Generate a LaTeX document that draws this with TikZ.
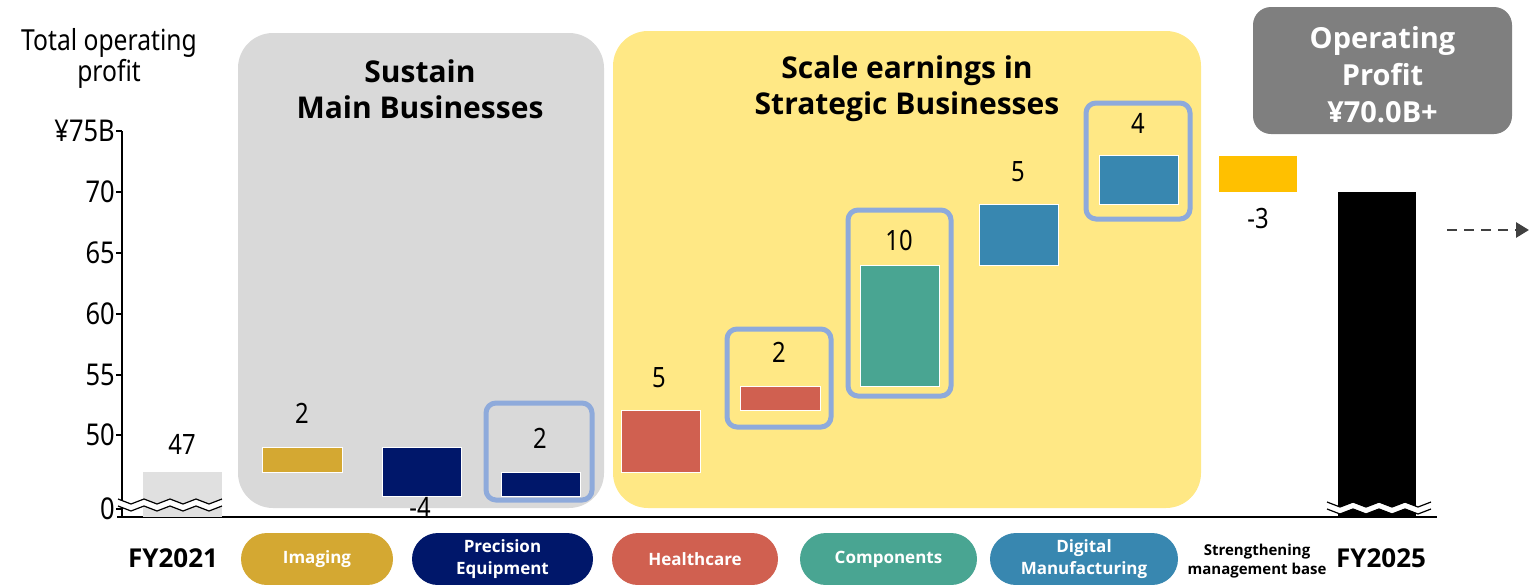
\documentclass[tikz,border=0pt]{standalone}
\usepackage{fontspec}
\setmainfont{Open Sans}
\newfontfamily\narrowfont{Noto Sans}[FakeStretch=0.85]
\usetikzlibrary{arrows.meta}

\definecolor{imgcol}{HTML}{D4A832}
\definecolor{preccol}{HTML}{00176A}
\definecolor{healthcol}{HTML}{D06050}
\definecolor{compcol}{HTML}{49A592}
\definecolor{digicol}{HTML}{3887B0}
\definecolor{basecol}{HTML}{FFC000}
\definecolor{hiblue}{HTML}{8EAADB}
\definecolor{panelgray}{HTML}{D9D9D9}
\definecolor{panelyellow}{HTML}{FFE885}
\definecolor{startgray}{HTML}{E0E0E0}
\definecolor{opgray}{HTML}{7F7F7F}
\definecolor{arrowgray}{HTML}{404040}

\tikzset{
  axisline/.style={line width=1.6pt},
  ticklbl/.style={anchor=east, inner sep=1pt, font=\narrowfont\fontsize{30}{32}\selectfont},
  val/.style={font=\narrowfont\fontsize{28}{30}\selectfont},
  bar/.style={fill=#1, draw=white, line width=1pt},
  hilite/.style={draw=hiblue, line width=5pt, rounded corners=10pt},
  paneltitle/.style={align=center, font=\bfseries\fontsize{30}{36}\selectfont},
  pill/.style={fill=#1, text=white, rounded corners=26pt, minimum height=52pt,
    inner sep=0pt, align=center, font=\bfseries\fontsize{17}{22}\selectfont},
  fylbl/.style={font=\bfseries\fontsize{26}{28}\selectfont},
}

% zigzag break mark: #1 = left x, #2 = y
\newcommand{\zigline}[3][]{\draw[#1] plot[domain=0:8, samples=9] ({#2+13*\x}, {#3+5*mod(\x,2)});}
\newcommand{\axbreak}[2]{%
  \zigline[white, line width=6pt]{#1}{#2+3.5}
  \zigline[black, line width=1.2pt]{#1}{#2}
  \zigline[black, line width=1.2pt]{#1}{#2+7}}

\begin{document}
\begin{tikzpicture}[x=1pt,y=-1pt]
\useasboundingbox (0,0) rectangle (1529,584);

% background panels
\fill[panelgray, rounded corners=35pt] (238,33) rectangle (604,508);
\fill[panelyellow, rounded corners=35pt] (613,31) rectangle (1201,508);
\node[paneltitle] (sustain) at (420,89) {Sustain\\Main Businesses};
\node[paneltitle] (scale) at (907,89) {Scale earnings in\\Strategic Businesses};

\fill[opgray, rounded corners=18pt] (1253,7) rectangle (1512,134);
\node[text=white, align=center, font=\bfseries\fontsize{29}{37}\selectfont] (opprofit) at (1382.5,75)
  {Operating\\Profit\\¥70.0B+};

\node[align=center, font=\narrowfont\fontsize{29}{31}\selectfont] (ytitle) at (109,58) {Total operating\\profit};

% axes
\draw[axisline] (122,131) -- (122,517);
\draw[axisline] (117,517) -- (1437,517);
\foreach \yy/\lab [count=\i] in {131/¥75B,192/70,253/65,314/60,375/55,435/50,509/0}{
  \draw[axisline] (116,\yy) -- (122,\yy);
  \node[ticklbl] (tick\i) at (116,\yy) {\lab};
}

% bars
\fill[startgray] (143,472) rectangle (222,517);
\path[bar=imgcol] (262,447.6) rectangle (342,472);
\path[bar=preccol] (382,447.6) rectangle (461,496);
\path[bar=preccol] (501,472) rectangle (580,496);
\path[bar=healthcol] (621,410.9) rectangle (700,472);
\path[bar=healthcol] (740,386.6) rectangle (820,410.9);
\path[bar=compcol] (860,265) rectangle (939,386.6);
\path[bar=digicol] (979,204.2) rectangle (1058,265);
\path[bar=digicol] (1099,155.5) rectangle (1178,204.2);
\path[bar=basecol] (1218,155.5) rectangle (1297,192);
\fill[black] (1338,192) rectangle (1416,517);

% highlighted steps
\draw[hilite] (486,403) rectangle (592,500);
\draw[hilite] (727,329) rectangle (831,427);
\draw[hilite] (848,210) rectangle (951,396);
\draw[hilite] (1086,103) rectangle (1190,219);

% break marks
\axbreak{118}{499}
\axbreak{1327}{502}

% values
\node[val] (v47) at (182,444) {47};
\node[val] (vimg) at (302,413) {2};
\node[val] (vprec) at (420,507) {-4};
\node[val] (vprecb) at (540,438) {2};
\node[val] (vhealth) at (659,378) {5};
\node[val] (vhealthb) at (779,352) {2};
\node[val] (vcomp) at (899,240) {10};
\node[val] (vdigi) at (1018,172) {5};
\node[val] (vdigib) at (1138,123) {4};
\node[val] (vbase) at (1258,218) {-3};

% onward arrow
\coordinate (arrstart) at (1447,230);
\coordinate (arrend) at (1529,230);
\draw[arrowgray, line width=2.8pt, dash pattern=on 10pt off 7pt, -{Triangle[length=13pt,width=15pt]}] (arrstart) -- (arrend);

% categories
\node[fylbl] (fy21) at (173,558) {FY2021};
\node[pill=imgcol, minimum width=152pt] (imaging) at (317,559) {Imaging};
\node[pill=preccol, minimum width=181pt] (precision) at (502.5,559) {Precision\\Equipment};
\node[pill=healthcol, minimum width=166pt] (healthcare) at (695,559) {Healthcare};
\node[pill=compcol, minimum width=177pt] (components) at (888.5,559) {Components};
\node[pill=digicol, minimum width=188pt] (digital) at (1084,559) {Digital\\Manufacturing};
\node[align=center, font=\bfseries\fontsize{15}{19}\selectfont] (mgmtbase) at (1257,561) {Strengthening\\management base};
\node[fylbl] (fy25) at (1381,558) {FY2025};
\end{tikzpicture}
\end{document}
